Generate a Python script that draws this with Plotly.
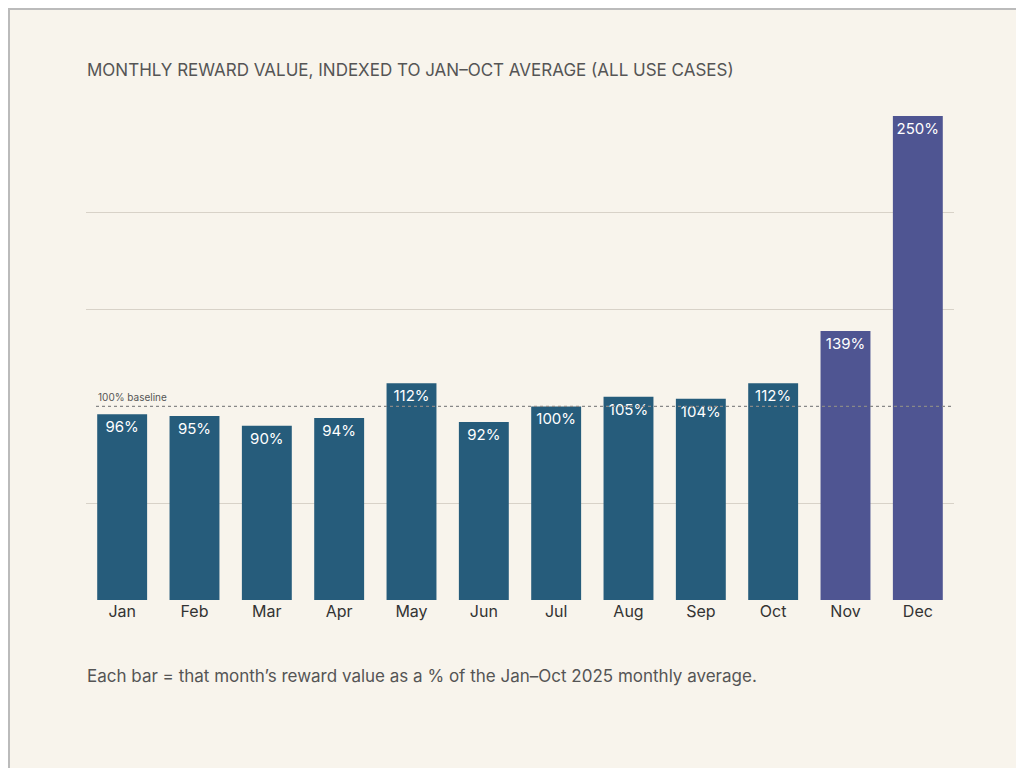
import plotly.graph_objects as go

months = ["Jan","Feb","Mar","Apr","May","Jun","Jul","Aug","Sep","Oct","Nov","Dec"]
values = [96,95,90,94,112,92,100,105,104,112,139,250]
colors = ["#265c7b"]*10 + ["#4f5592"]*2

W, H = 1024, 768
L, R, T, B = 78, 78, 108, 176
pw, ph = W-L-R, H-T-B

def px(x): return (x-L)/pw
def py(y): return (H-B-y)/ph

fig = go.Figure(go.Bar(
    x=months, y=values, marker_color=colors, marker_line_width=0,
    text=[f"{v}%" for v in values], textposition="inside", insidetextanchor="end",
    textangle=0, textfont=dict(color="white", size=15, family="Inter"),
    cliponaxis=False,
))
fig.update_layout(
    width=W, height=H, margin=dict(l=L, r=R, t=T, b=B),
    paper_bgcolor="#f8f4ec", plot_bgcolor="#f8f4ec",
    font=dict(family="Inter", color="#444"),
    bargap=0.31, showlegend=False,
    xaxis=dict(showgrid=False, showline=False, ticks="", tickfont=dict(size=16, color="#333")),
    yaxis=dict(range=[0,250], tickvals=[0,50,150,200,250], showticklabels=False,
               gridcolor="#d8d2c8", zeroline=False, showline=False),
)
fig.add_shape(type="line", xref="paper", yref="y", x0=px(88), x1=px(946), y0=100, y1=100,
              line=dict(color="#888", width=1.2, dash="dot"))
fig.add_shape(type="rect", xref="paper", yref="paper", x0=px(1), x1=px(1023), y0=py(767), y1=py(1),
              line=dict(color="#bbb", width=2), layer="below")
fig.add_annotation(xref="paper", yref="y", x=px(88), y=100, yshift=9, text="100% baseline",
                   showarrow=False, xanchor="left", font=dict(size=10, color="#555"))
fig.add_annotation(xref="paper", yref="paper", x=px(77), y=py(62),
                   text="MONTHLY REWARD VALUE, INDEXED TO JAN–OCT AVERAGE (ALL USE CASES)",
                   showarrow=False, xanchor="left", yanchor="middle", font=dict(size=17, color="#555"))
fig.add_annotation(xref="paper", yref="paper", x=px(77), y=py(668),
                   text="Each bar = that month’s reward value as a % of the Jan–Oct 2025 monthly average.",
                   showarrow=False, xanchor="left", yanchor="middle", font=dict(size=17, color="#555"))
fig.write_html("out.html")
